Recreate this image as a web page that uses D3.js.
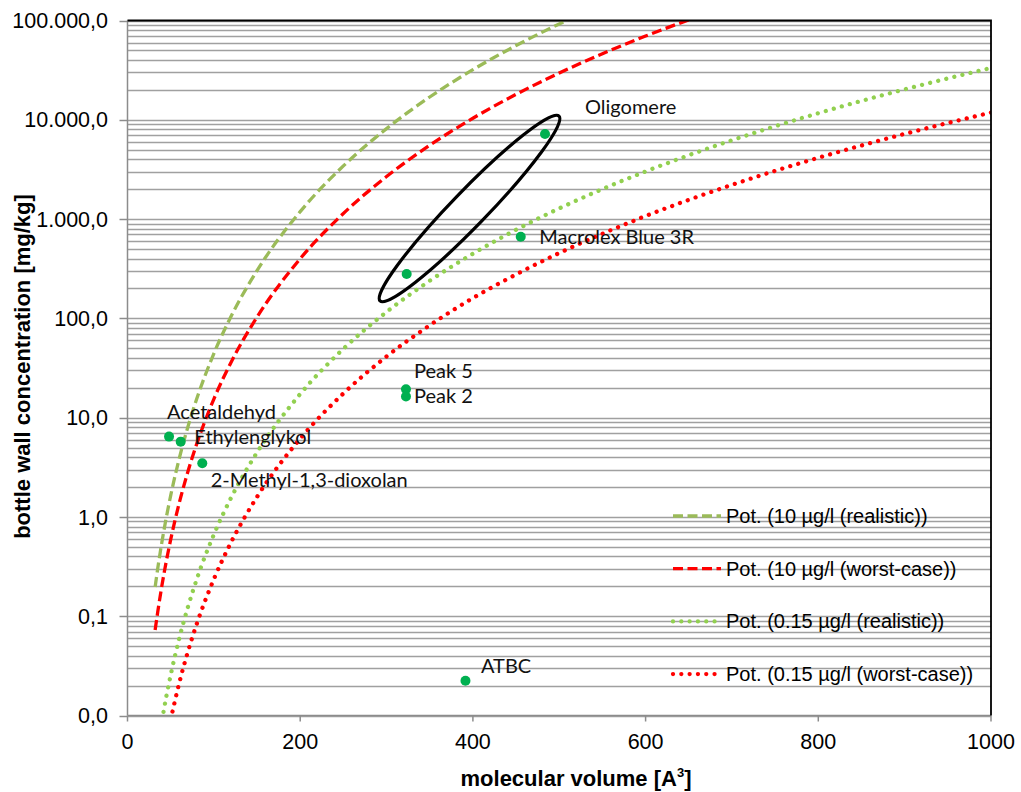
<!DOCTYPE html>
<html>
<head>
<meta charset="utf-8">
<script src="https://cdn.jsdelivr.net/npm/d3@7"></script>
<style>
  body { margin: 0; background: #fff; }
  svg { display: block; }
  .tick-label { font-family: "Liberation Sans", Arial, sans-serif; font-size: 21.5px; fill: #000; }
  .legend-label { font-family: "Liberation Sans", Arial, sans-serif; font-size: 20px; fill: #000; }
  .axis-title { font-family: "Liberation Sans", Arial, sans-serif; font-size: 22px; font-weight: bold; fill: #000; }
  .point-label { font-family: Lato, "Open Sans", sans-serif; font-size: 20px; fill: #111; }
</style>
</head>
<body>
<svg width="1021" height="792"></svg>
<script>
// trend lines (Pot.)
const trendVolume = [32, 35, 40, 45, 50, 60, 70, 80, 100, 120, 150, 200, 250, 300, 350, 400, 450, 500, 550, 600, 650, 700, 800, 900, 1000];
const realistic10 = [0.197, 0.302, 0.568, 0.995, 1.64, 3.90, 8.11, 15.3, 44.2, 105, 303, 1188, 3430, 8150, 16960, 31960, 55930, 92290, 145100, null, null, null, null, null, null];
const worst10 = [0.0725, 0.110, 0.207, 0.360, 0.590, 1.39, 2.87, 5.38, 15.4, 36.2, 103, 399, 1138, 2682, 5536, 10370, 18040, 29600, 46320, 69700, 101550, 143900, null, null, null];
const realistic015 = [null, null, 0.00895, 0.0156, 0.0255, 0.0602, 0.124, 0.233, 0.664, 1.56, 4.46, 17.3, 49.3, 116, 239, 448, 780, 1280, 2003, 3015, 4392, 6223, 11655, 20270, 33270];
const worst015 = [null, null, null, null, 0.00908, 0.0214, 0.0442, 0.0827, 0.236, 0.556, 1.59, 6.14, 17.5, 41.3, 85.1, 160, 277, 455, 712, 1072, 1562, 2213, 4145, 7210, 11830];

const seriesNames = ["Pot. (10 µg/l (realistic))", "Pot. (10 µg/l (worst-case))", "Pot. (0.15 µg/l (realistic))", "Pot. (0.15 µg/l (worst-case))"];

// measured substances
const pointNames = ["Acetaldehyd", "Ethylenglykol", "2-Methyl-1,3-dioxolan", "Peak 5", "Peak 2", "", "Oligomere", "Macrolex Blue 3R", "ATBC"];
const pointVolume = [48.1, 61.6, 86.6, 322.5, 322.5, 323.3, 483.5, 455.4, 391.4];
const pointConc = [6.44, 5.73, 3.47, 19.3, 16.3, 280, 7190, 665, 0.0224];

// ellipse round the oligomer group (ends, in data units)
const ellipseEnds = [[291.3, 146], [500.9, 11170]];

const xTicks = [0, 200, 400, 600, 800, 1000];
const yMajor = [0.01, 0.1, 1, 10, 100, 1000, 10000, 100000];

const svg = d3.select("svg");

const plotLeft = 127.5, plotRight = 991, plotTop = 20.5, plotBottom = 715.5;

const x = d3.scaleLinear().domain([0, 1000]).range([plotLeft, plotRight]);
const y = d3.scaleLog().domain([0.01, 100000]).range([plotBottom, plotTop]);

const de = d3.formatLocale({decimal: ",", thousands: ".", grouping: [3], currency: ["", "€"]});
const fmt = de.format(",.1f");

// gridlines, all minor steps of the log axis
svg.append("g")
    .selectAll("line")
    .data(y.ticks())
    .enter().append("line")
    .attr("x1", plotLeft)
    .attr("x2", plotRight)
    .attr("y1", d => Math.round(y(d)) + 0.5)
    .attr("y2", d => Math.round(y(d)) + 0.5)
    .attr("stroke", "#a0a0a0")
    .attr("stroke-width", 1.7);

// axes
svg.append("line")
    .attr("x1", plotLeft).attr("x2", plotLeft)
    .attr("y1", plotTop).attr("y2", plotBottom)
    .attr("stroke", "#8c8c8c").attr("stroke-width", 1.5);
svg.append("line")
    .attr("x1", plotLeft).attr("x2", plotRight)
    .attr("y1", plotBottom).attr("y2", plotBottom)
    .attr("stroke", "#8c8c8c").attr("stroke-width", 1.5);

svg.append("g")
    .selectAll("line")
    .data(yMajor)
    .enter().append("line")
    .attr("x1", plotLeft - 8).attr("x2", plotLeft)
    .attr("y1", d => Math.round(y(d)) + 0.5)
    .attr("y2", d => Math.round(y(d)) + 0.5)
    .attr("stroke", "#8c8c8c").attr("stroke-width", 1.5);

svg.append("g")
    .selectAll("text")
    .data(yMajor)
    .enter().append("text")
    .attr("class", "tick-label")
    .attr("x", 108)
    .attr("y", d => y(d) + 7.7)
    .attr("text-anchor", "end")
    .text(d => fmt(d));

svg.append("g")
    .selectAll("line")
    .data(xTicks)
    .enter().append("line")
    .attr("x1", d => x(d)).attr("x2", d => x(d))
    .attr("y1", plotBottom).attr("y2", plotBottom + 6)
    .attr("stroke", "#8c8c8c").attr("stroke-width", 1.5);

svg.append("g")
    .selectAll("text")
    .data(xTicks)
    .enter().append("text")
    .attr("class", "tick-label")
    .attr("x", d => x(d))
    .attr("y", 748.5)
    .attr("text-anchor", "middle")
    .text(d => d);

// axis titles
svg.append("text")
    .attr("class", "axis-title")
    .attr("transform", "translate(30,366.5) rotate(-90)")
    .attr("text-anchor", "middle")
    .text("bottle wall concentration [mg/kg]");

const xTitle = svg.append("text")
    .attr("class", "axis-title")
    .attr("x", 576)
    .attr("y", 786)
    .attr("text-anchor", "middle");
xTitle.append("tspan").text("molecular volume [A");
xTitle.append("tspan").attr("font-size", "13px").attr("dy", -9).text("3");
xTitle.append("tspan").attr("dy", 9).text("]");

// trend lines
svg.append("clipPath")
    .attr("id", "plot")
    .append("rect")
    .attr("x", plotLeft).attr("y", plotTop)
    .attr("width", plotRight - plotLeft).attr("height", plotBottom - plotTop);

const styles = [
    {color: "#9bbb59", dash: "10,4.5", width: 3.3, cap: "butt"},
    {color: "#ff0000", dash: "10,4.5", width: 3.3, cap: "butt"},
    {color: "#92d050", dash: "0.01,8.3", width: 4.3, cap: "round"},
    {color: "#ff0000", dash: "0.01,8.3", width: 4.3, cap: "round"}
];

const trendLine = d3.line()
    .defined(d => d[1] != null)
    .x(d => x(d[0]))
    .y(d => y(d[1]))
    .curve(d3.curveMonotoneX);

const trends = [realistic10, worst10, realistic015, worst015];

trends.forEach((vals, i) => {
    const pts = trendVolume.map((v, j) => [v, vals[j]]);
    svg.append("path")
        .datum(pts)
        .attr("clip-path", "url(#plot)")
        .attr("fill", "none")
        .attr("stroke", styles[i].color)
        .attr("stroke-width", styles[i].width)
        .attr("stroke-dasharray", styles[i].dash)
        .attr("stroke-linecap", styles[i].cap)
        .attr("d", trendLine);
});

// ellipse
const e0 = [x(ellipseEnds[0][0]), y(ellipseEnds[0][1])];
const e1 = [x(ellipseEnds[1][0]), y(ellipseEnds[1][1])];
const ecx = (e0[0] + e1[0]) / 2, ecy = (e0[1] + e1[1]) / 2;
const erx = Math.hypot(e1[0] - e0[0], e1[1] - e0[1]) / 2 - 1.5;
const eAngle = Math.atan2(e1[1] - e0[1], e1[0] - e0[0]) * 180 / Math.PI;
svg.append("ellipse")
    .attr("cx", 0).attr("cy", 0)
    .attr("rx", erx).attr("ry", 17.5)
    .attr("transform", `translate(${ecx},${ecy}) rotate(${eAngle})`)
    .attr("fill", "none")
    .attr("stroke", "#000")
    .attr("stroke-width", 3.2);

// points
const points = pointNames.map((n, i) => ({name: n, v: pointVolume[i], c: pointConc[i]}));

svg.append("g")
    .selectAll("circle")
    .data(points)
    .enter().append("circle")
    .attr("cx", d => x(d.v))
    .attr("cy", d => y(d.c))
    .attr("r", 5)
    .attr("fill", "#00b050");

const labelShift = {
    "Acetaldehyd": [-2, -17.7],
    "Ethylenglykol": [13.6, 2.3],
    "2-Methyl-1,3-dioxolan": [8.4, 24],
    "Peak 5": [8, -11],
    "Peak 2": [8, 6.6],
    "Oligomere": [40, -20],
    "Macrolex Blue 3R": [18.6, 7.3],
    "ATBC": [15.5, -7.5]
};

svg.append("g")
    .selectAll("text")
    .data(points.filter(d => d.name))
    .enter().append("text")
    .attr("class", "point-label")
    .attr("x", d => x(d.v) + labelShift[d.name][0])
    .attr("y", d => y(d.c) + labelShift[d.name][1])
    .text(d => d.name);

// legend
const legend = svg.append("g")
    .selectAll("g")
    .data(seriesNames)
    .enter().append("g")
    .attr("transform", (d, i) => `translate(673,${516 + i * 52.7})`);

legend.append("line")
    .attr("x1", 0).attr("x2", 48)
    .attr("y1", 0).attr("y2", 0)
    .attr("stroke", (d, i) => styles[i].color)
    .attr("stroke-width", (d, i) => styles[i].width)
    .attr("stroke-dasharray", (d, i) => styles[i].dash)
    .attr("stroke-linecap", (d, i) => styles[i].cap);

legend.append("text")
    .attr("class", "legend-label")
    .attr("x", 53)
    .attr("y", 7)
    .text(d => d);

// top and right border
svg.append("path")
    .attr("d", `M${plotLeft},${plotTop}H${plotRight}V${plotBottom}`)
    .attr("fill", "none")
    .attr("stroke", "#000")
    .attr("stroke-width", 1.8);
</script>
</body>
</html>
